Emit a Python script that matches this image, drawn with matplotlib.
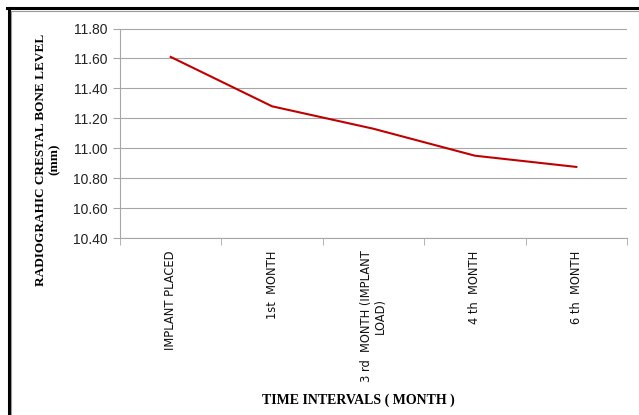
import numpy as np
import matplotlib.pyplot as plt
from matplotlib.lines import Line2D

# data
categories = ["IMPLANT PLACED", "1st  MONTH", "3 rd  MONTH (IMPLANT\nLOAD)",
              "4 th  MONTH", "6 th  MONTH"]
bone_level = [11.61, 11.28, 11.13, 10.95, 10.875]
y_ticks = [10.40, 10.60, 10.80, 11.00, 11.20, 11.40, 11.60, 11.80]

fig = plt.figure(figsize=(6.39, 4.15), dpi=100)
ax = fig.add_axes([120/639, 1 - 238/415, (627-120)/639, (238-28.5)/415])

x = np.arange(len(categories))
ax.plot(x, bone_level, color="#C00000", lw=1.5, solid_joinstyle="round")

ax.set_xlim(-0.5, len(categories) - 0.5)
ax.set_ylim(y_ticks[0], y_ticks[-1])
ax.set_yticks(y_ticks)
ax.set_yticklabels([f"{v:.2f}" for v in y_ticks], fontsize=10, color="#222222",
                   family="Liberation Sans")
ax.yaxis.grid(True, color="#a6a6a6", lw=0.8)
ax.set_axisbelow(True)

ax.set_xticks(x)
ax.set_xticklabels(categories, rotation=90, fontsize=8.3, va="top", ha="center",
                   family="DejaVu Sans", linespacing=1.1, color="#111111")
ax.set_xticks(np.arange(-0.5, len(categories)), minor=True)
ax.tick_params(axis="x", which="major", length=0, pad=9)
ax.tick_params(axis="x", which="minor", length=5, color="#a6a6a6")
ax.tick_params(axis="y", length=5, color="#a6a6a6", pad=4)

for s in ["top", "right"]:
    ax.spines[s].set_visible(False)
for s in ["left", "bottom"]:
    ax.spines[s].set_color("#a6a6a6")
    ax.spines[s].set_linewidth(0.8)

ax.set_ylabel("RADIOGRAHIC CRESTAL BONE LEVEL\n(mm)", fontsize=9.5, fontweight="bold",
              family="Liberation Serif", linespacing=1.1)
ax.yaxis.set_label_coords(-0.118, 0.375)
fig.text(358/639, 1 - 400/415, "TIME INTERVALS ( MONTH )", fontsize=10, fontweight="bold",
         family="Liberation Serif", ha="center", va="center")

# page-style frame at left and top
W, H = 639, 415
fig.add_artist(Line2D([8.5/W, 8.5/W], [0, 1 - 8.5/H], color="black", lw=2.2,
                      transform=fig.transFigure))
fig.add_artist(Line2D([7/W, 1], [1 - 8.5/H, 1 - 8.5/H], color="black", lw=2.2,
                      transform=fig.transFigure))
fig.add_artist(Line2D([11/W, 11/W], [0, 1 - 11/H], color="#999999", lw=0.8,
                      transform=fig.transFigure))
fig.add_artist(Line2D([11/W, 1], [1 - 11/H, 1 - 11/H], color="#999999", lw=0.8,
                      transform=fig.transFigure))

fig.savefig("out.png", dpi=100)
